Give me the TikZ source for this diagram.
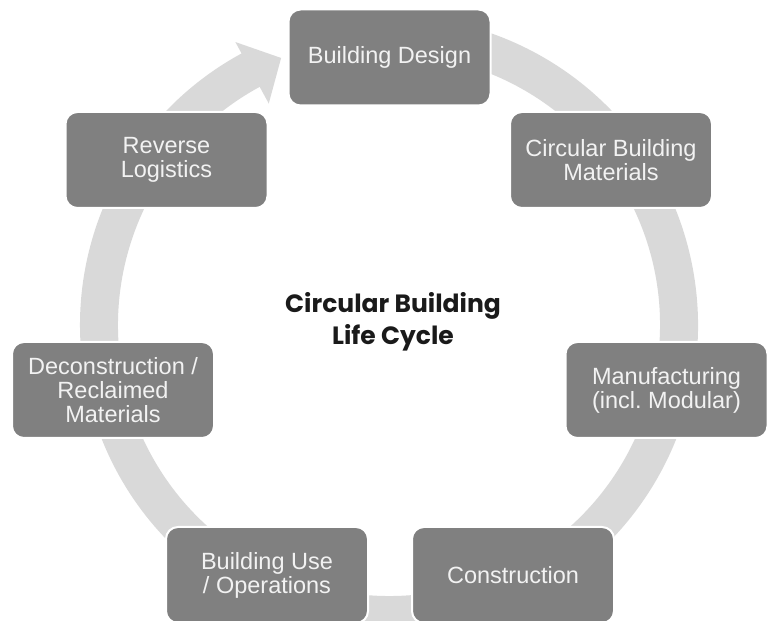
\documentclass[tikz,border=0pt]{standalone}
\usepackage{fontspec}
\setmainfont{Liberation Sans}
\newfontfamily\titlefont{Poppins}
\definecolor{ringgray}{RGB}{217,217,217}
\definecolor{boxgray}{RGB}{128,128,128}
\definecolor{boxtext}{RGB}{242,242,242}
\definecolor{titletext}{RGB}{26,26,26}

\begin{document}
\begin{tikzpicture}[x=1pt,y=1pt,
        stagebox/.style={draw=white, line width=2pt, fill=boxgray, rounded corners=12pt,
            minimum width=202pt, minimum height=96pt, inner sep=0pt, align=center,
            text=boxtext, font=\fontsize{23.5}{24}\selectfont}]
    \useasboundingbox (0,0) rectangle (774,621);

    % Ring with arrow head
    \begin{scope}[shift={(389,296)}]
        \fill[ringgray] (100:309) arc[start angle=100, end angle=-241.5, radius=309]
            -- (-241.5:322) -- (-248:288) -- (-241.5:252) -- (-241.5:271)
            arc[start angle=-241.5, end angle=100, radius=271] -- cycle;
    \end{scope}

    % Stages
    \node[stagebox] (design) at (389.5,563.5) {Building Design};
    \node[stagebox] (materials) at (611,461) {Circular Building\\Materials};
    \node[stagebox] (manufacturing) at (666.5,231) {Manufacturing\\(incl.\ Modular)};
    \node[stagebox] (construction) at (513,46) {Construction};
    \node[stagebox] (use) at (267,46) {Building Use\\/ Operations};
    \node[stagebox] (deconstruction) at (113,231) {Deconstruction /\\Reclaimed\\Materials};
    \node[stagebox] (logistics) at (166.5,461) {Reverse\\Logistics};

    % Title
    \node[align=center, text=titletext, font=\titlefont\bfseries\fontsize{25}{32}\selectfont]
        (title) at (393,299) {Circular Building\\Life Cycle};
\end{tikzpicture}
\end{document}
